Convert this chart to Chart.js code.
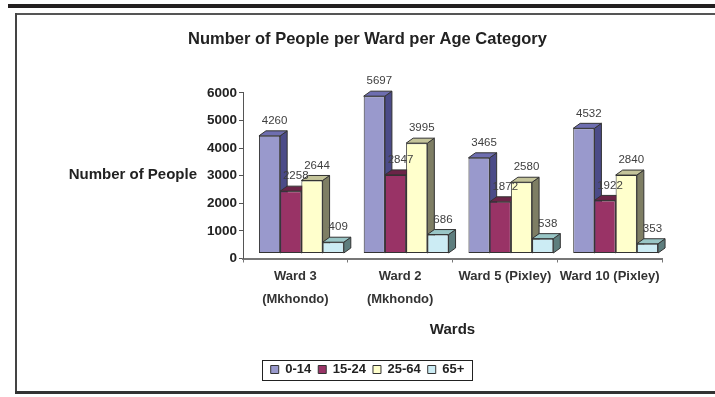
<!DOCTYPE html>
<html>
<head>
<meta charset="utf-8">
<script src="https://cdn.jsdelivr.net/npm/chart.js@4/dist/chart.umd.min.js"></script>
<style>
  html, body { margin: 0; padding: 0; background: #fff; }
  #wrap { position: relative; width: 715px; height: 397px; overflow: hidden; }
  .ln { position: absolute; }
  canvas { position: absolute; left: 0; top: 0; }
</style>
</head>
<body>
<div id="wrap">
  <div class="ln" style="left:8px;top:4px;width:707px;height:4px;background:#231f20"></div>
  <div class="ln" style="left:15px;top:13px;width:700px;height:2px;background:#555"></div>
  <div class="ln" style="left:15px;top:13px;width:2px;height:380px;background:#444"></div>
  <div class="ln" style="left:15px;top:391px;width:700px;height:3px;background:#333"></div>
  <canvas id="chart" width="715" height="397"></canvas>
</div>
<script>
// data
var wards = [["Ward 3", "(Mkhondo)"], ["Ward 2", "(Mkhondo)"], "Ward 5 (Pixley)", "Ward 10 (Pixley)"];
var ageGroups = ["0-14", "15-24", "25-64", "65+"];
var age0to14 = [4260, 5697, 3465, 4532];
var age15to24 = [2258, 2847, 1872, 1922];
var age25to64 = [2644, 3995, 2580, 2840];
var age65plus = [409, 686, 538, 353];
var yMax = 6000;
var yStep = 1000;

// colours: front face, top face, side face
var frontColors = ["#9999cc", "#993366", "#ffffcc", "#ccecf4"];
var topColors = ["#6e6eb0", "#6b2447", "#c4c49a", "#99c6c6"];
var sideColors = ["#4b4b88", "#5a1d3b", "#7e7e64", "#5e7e7e"];

var DEPTH_X = 7, DEPTH_Y = 5;   // 3d depth of a bar
var SHIFT_X = 6, SHIFT_Y = -5;  // bars sit a bit back from the axis
var FONT = "'Liberation Sans', Arial, sans-serif";

Chart.defaults.font.family = FONT;

function fillPoly(ctx, pts, color) {
  ctx.beginPath();
  ctx.moveTo(pts[0][0], pts[0][1]);
  for (var i = 1; i < pts.length; i++) {
    ctx.lineTo(pts[i][0], pts[i][1]);
  }
  ctx.closePath();
  ctx.fillStyle = color;
  ctx.fill();
  ctx.strokeStyle = "#333";
  ctx.lineWidth = 1;
  ctx.stroke();
}

// draws side and top faces under the front faces, then the value labels
var bar3d = {
  id: "bar3d",
  beforeDatasetsDraw: function (chart) {
    var ctx = chart.ctx;
    ctx.save();
    ctx.translate(SHIFT_X, SHIFT_Y);
    chart.data.datasets.forEach(function (ds, i) {
      chart.getDatasetMeta(i).data.forEach(function (bar) {
        var l = bar.x - bar.width / 2, r = bar.x + bar.width / 2;
        var t = bar.y, b = bar.base;
        fillPoly(ctx, [[r, t], [r + DEPTH_X, t - DEPTH_Y], [r + DEPTH_X, b - DEPTH_Y], [r, b]], sideColors[i]);
        fillPoly(ctx, [[l, t], [l + DEPTH_X, t - DEPTH_Y], [r + DEPTH_X, t - DEPTH_Y], [r, t]], topColors[i]);
      });
    });
  },
  afterDatasetsDraw: function (chart) {
    var ctx = chart.ctx;
    ctx.restore();
    ctx.save();
    ctx.font = "11.5px " + FONT;
    ctx.fillStyle = "#404040";
    ctx.textAlign = "center";
    ctx.textBaseline = "middle";
    chart.data.datasets.forEach(function (ds, i) {
      chart.getDatasetMeta(i).data.forEach(function (bar, j) {
        ctx.fillText(String(ds.data[j]), bar.x + SHIFT_X + 5, bar.y + SHIFT_Y - 15);
      });
    });
    ctx.restore();
  },
  afterDraw: function (chart) {
    var ctx = chart.ctx;
    ctx.save();
    // horizontal y axis title
    ctx.font = "bold 15px " + FONT;
    ctx.fillStyle = "#222";
    ctx.textAlign = "right";
    ctx.textBaseline = "middle";
    ctx.fillText("Number of People", chart.chartArea.left - 46, chart.scales.y.getPixelForValue(3000) - 1);
    // box round the legend
    var boxes = chart.legend.legendHitBoxes;
    var first = boxes[0], last = boxes[boxes.length - 1];
    ctx.strokeStyle = "#222";
    ctx.lineWidth = 1;
    ctx.strokeRect(Math.round(first.left - 9) + 0.5, Math.round(first.top + first.height / 2 - 10) + 0.5,
      Math.round(last.left + last.width - first.left + 16), 20);
    ctx.restore();
  }
};

function makeDataset(label, values, i) {
  return {
    label: label,
    data: values,
    backgroundColor: frontColors[i],
    borderColor: "#333",
    borderWidth: 1,
    borderSkipped: false,
    barPercentage: 1,
    categoryPercentage: 0.81
  };
}

var chart = new Chart(document.getElementById("chart"), {
  type: "bar",
  data: {
    labels: wards,
    datasets: [
      makeDataset(ageGroups[0], age0to14, 0),
      makeDataset(ageGroups[1], age15to24, 1),
      makeDataset(ageGroups[2], age25to64, 2),
      makeDataset(ageGroups[3], age65plus, 3)
    ]
  },
  options: {
    responsive: false,
    animation: false,
    layout: {
      padding: { top: 14, left: 73, right: 53, bottom: 11 }
    },
    plugins: {
      title: {
        display: true,
        text: "Number of People per Ward per Age Category",
        color: "#222",
        font: { size: 16.5, weight: "bold" },
        padding: { top: 16, bottom: 43 }
      },
      legend: {
        position: "bottom",
        labels: {
          boxWidth: 8,
          boxHeight: 8,
          padding: 7,
          color: "#222",
          font: { size: 13, weight: "bold" }
        }
      },
      tooltip: { enabled: false }
    },
    scales: {
      x: {
        grid: { drawOnChartArea: false, tickLength: 4, color: "#777" },
        border: { color: "#777", width: 2 },
        ticks: {
          color: "#333",
          padding: 3,
          maxRotation: 0,
          autoSkip: false,
          font: { size: 13, weight: "bold", lineHeight: 1.75 }
        },
        title: {
          display: true,
          text: "Wards",
          color: "#222",
          font: { size: 15, weight: "bold" },
          padding: { top: 7, bottom: 17 }
        }
      },
      y: {
        min: 0,
        max: yMax,
        grid: { drawOnChartArea: false, tickLength: 4, color: "#555" },
        border: { color: "#555" },
        ticks: {
          stepSize: yStep,
          color: "#222",
          padding: 2,
          font: { size: 13.5, weight: "bold" },
          callback: function (value) {
            return String(value);
          }
        },
        afterFit: function (scale) {
          scale.width = 170;
        }
      }
    }
  },
  plugins: [bar3d]
});
</script>
</body>
</html>
